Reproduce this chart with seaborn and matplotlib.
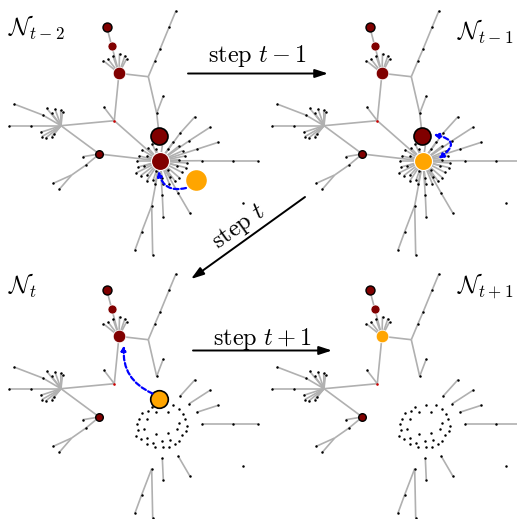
import matplotlib
matplotlib.use("Agg")
import matplotlib.pyplot as plt
import seaborn as sns
import pandas as pd
from matplotlib.patches import FancyArrowPatch
from matplotlib.collections import LineCollection

sns.set_theme(style="white")
plt.rcParams["mathtext.fontset"] = "cm"
plt.rcParams["font.family"] = ["DejaVu Sans"]
plt.rcParams["text.color"] = "black"

# ---------------- network layout (panel-local pixel coords) ----
core_id = ["n1", "n2", "n3", "J1", "J2", "B", "H", "J3", "F", "N4", "J4"]
core_x = [106.7, 111.7, 119.0, 148.3, 156.7, 159.3, 160.0, 114.3, 61.0, 99.3, 71.7]
core_y = [26.7, 45.7, 73.3, 76.7, 113.3, 136.0, 161.0, 120.7, 125.7, 154.0, 175.0]

# small black leaf / relay nodes
leaf_id = ["U1", "U2", "U3", "U4", "J2a", "J3a", "Fa1", "Fa", "Fb1", "Fb",
           "f1", "f2", "f3", "f4", "f5", "f6", "f7", "f8", "f9", "f10",
           "N4a", "K1", "J4a", "J4b",
           "c1", "c2", "c3", "c4", "c5", "c6",
           "L1a", "L1b", "L2a", "L2b", "L3a", "L3b", "L4a", "L4b", "L4c",
           "L5a", "L5b", "L6a", "L6b", "L7a", "L7b", "L7c", "L7d", "Z"]
leaf_x = [155.0, 160.0, 169.3, 176.0, 163.3, 104.0, 42.7, 14.0, 30.7, 9.3,
          46.7, 51.7, 55.0, 60.7, 62.5, 40.7, 42.0, 45.7, 51.7, 54.0,
          82.7, 86.0, 53.3, 59.3,
          103.3, 108.0, 113.0, 119.5, 125.0, 126.5,
          180.0, 195.0, 189.3, 210.0, 196.7, 218.3, 201.7, 233.3, 258.0,
          178.3, 190.0, 162.3, 163.3, 151.7, 141.7, 135.0, 152.7, 243.0]
leaf_y = [60.7, 49.3, 26.7, 10.7, 96.0, 107.3, 115.0, 104.0, 125.7, 125.7,
          108.3, 113.3, 109.0, 110.0, 112.0, 132.3, 136.5, 138.0, 136.7, 134.0,
          156.7, 165.0, 183.3, 189.3,
          60.7, 59.0, 56.0, 53.5, 55.5, 59.0,
          133.3, 116.7, 140.7, 127.3, 149.3, 142.3, 160.7, 160.7, 160.7,
          193.3, 213.3, 195.0, 216.7, 205.7, 231.7, 250.0, 255.0, 203.0]

# leaves of the hub (short spokes)
ring_x = [173.3, 179.0, 141.7, 148.3, 156.0, 168.3, 182.7, 179.3, 139.3, 147.3,
          186.7, 137.3, 138.3, 144.0, 186.0, 181.7, 140.7, 147.3, 179.3, 153.3,
          146.7, 161.7, 170.0, 175.0, 155.0, 162.7, 169.3, 156.0, 168.3, 176.7,
          152.0, 163.0, 185.0, 136.0]
ring_y = [141.7, 146.0, 149.7, 148.3, 149.0, 149.0, 150.7, 159.7, 156.0, 156.3,
          163.0, 161.0, 167.0, 166.3, 167.7, 172.3, 175.7, 175.0, 177.7, 179.7,
          181.0, 177.7, 177.0, 181.0, 184.3, 184.3, 183.7, 171.0, 170.3, 165.7,
          143.5, 141.5, 156.0, 173.0]
ring_id = ["r%d" % i for i in range(len(ring_x))]

edges = [("n1", "n2"), ("n2", "n3"), ("n3", "J1"), ("J1", "U1"), ("U1", "U2"),
         ("U2", "U3"), ("U3", "U4"), ("J1", "J2"), ("J2", "J2a"), ("J2", "B"),
         ("n3", "J3"), ("J3", "J3a"), ("J3", "F"), ("J3", "H"),
         ("F", "Fa1"), ("Fa1", "Fa"), ("F", "Fb1"), ("Fb1", "Fb"),
         ("F", "N4"), ("N4", "H"), ("N4", "N4a"), ("N4", "K1"), ("K1", "J4"),
         ("J4", "J4a"), ("J4", "J4b"),
         ("H", "L1a"), ("L1a", "L1b"), ("H", "L2a"), ("L2a", "L2b"),
         ("H", "L3a"), ("L3a", "L3b"), ("H", "L4a"), ("L4a", "L4b"), ("L4b", "L4c"),
         ("H", "L5a"), ("L5a", "L5b"), ("H", "L6a"), ("L6a", "L6b"),
         ("H", "L7a"), ("L7a", "L7b"), ("L7b", "L7c"), ("L7a", "L7d")]
edges += [("F", "f%d" % i) for i in range(1, 11)]
edges += [("n3", "c%d" % i) for i in range(1, 7)]
edges += [("H", r) for r in ring_id]

walker_x = [196.0]
walker_y = [180.0]

panel_labels = [r"$\mathcal{N}_{t-2}$", r"$\mathcal{N}_{t-1}$",
                r"$\mathcal{N}_{t}$", r"$\mathcal{N}_{t+1}$"]
step_labels = [r"$\mathrm{step}\ t-1$", r"$\mathrm{step}\ t$", r"$\mathrm{step}\ t+1$"]

# ------------------------------------------------------------------------------
pos = {}
for i, n in enumerate(core_id):
    pos[n] = (core_x[i], core_y[i])
for i, n in enumerate(leaf_id):
    pos[n] = (leaf_x[i], leaf_y[i])
for i, n in enumerate(ring_id):
    pos[n] = (ring_x[i], ring_y[i])

W, Hh = 517, 519
fig = plt.figure(figsize=(W / 100, Hh / 100), dpi=100)
ax = fig.add_axes([0, 0, 1, 1])
ax.set_xlim(0, W)
ax.set_ylim(Hh, 0)
ax.axis("off")

offsets = [(0, 0), (263, 0), (0, 263), (263, 263)]
MAROON = "#800000"
ORANGE = "#FFA500"
GRAY = "#b0b0b0"


def s_of(r):
    return (1.44 * r) ** 2


def node(x, y, r, fc, ec, lw, z=5):
    sns.scatterplot(x=[x], y=[y], s=s_of(r), color=fc, edgecolor=ec,
                    linewidth=lw, ax=ax, zorder=z, legend=False)


for p, (dx, dy) in enumerate(offsets):
    hub_gone = p >= 2
    segs = []
    for a, b in edges:
        if hub_gone and ("H" in (a, b) or (a, b) == ("J2", "B")):
            continue
        (x1, y1), (x2, y2) = pos[a], pos[b]
        segs.append([(x1 + dx, y1 + dy), (x2 + dx, y2 + dy)])
    ax.add_collection(LineCollection(segs, colors=GRAY, linewidths=1.2, zorder=2))

    lx = [pos[n][0] + dx for n in leaf_id + ring_id + ["J2"]]
    ly = [pos[n][1] + dy for n in leaf_id + ring_id + ["J2"]]
    sns.scatterplot(x=lx, y=ly, s=3.2, color="black", linewidth=0, ax=ax,
                    zorder=3, legend=False)

    def P(n):
        return pos[n][0] + dx, pos[n][1] + dy

    node(*P("n1"), 4.5, MAROON, "black", 1.0)
    node(*P("n2"), 4.5, MAROON, "white", 0.5)
    node(*P("n3"), 6.3, ORANGE if p == 3 else MAROON, "white", 0.6)
    node(*P("J3"), 1.3, "#cc0000", "white", 0.0)
    node(*P("N4"), 3.8, MAROON, "black", 1.0)
    if p == 0:
        node(*P("B"), 8.5, MAROON, "black", 1.2)
        node(*P("H"), 9.0, MAROON, "white", 0.8)
        node(walker_x[0] + dx, walker_y[0] + dy, 10.3, ORANGE, ORANGE, 0.0)
    elif p == 1:
        node(*P("B"), 8.5, MAROON, "black", 1.2)
        node(*P("H"), 9.0, ORANGE, "white", 0.8)
    elif p == 2:
        node(*P("B"), 8.8, ORANGE, "black", 1.2)

    ax.text(8 + dx if p % 2 == 0 else 457, 14 + dy - (0 if p < 2 else 5) + (0 if p != 1 else 4),
            panel_labels[p], fontsize=17.5, ha="left", va="top", color="black")


def blue_arrow(a, b, rad, style):
    arr = FancyArrowPatch(a, b, connectionstyle="arc3,rad=%g" % rad,
                          arrowstyle=style, mutation_scale=7, color="#0000ff",
                          linestyle=(0, (2.2, 1.2)), linewidth=1.6, zorder=6,
                          shrinkA=0, shrinkB=0)
    ax.add_patch(arr)


# walker moves
blue_arrow((186, 188), (158.5, 171), -0.5, "-|>")
blue_arrow((263 + 175.5, 158.5), (263 + 170.5, 134.5), 1.15, "<|-|>")
blue_arrow((152.5, 263 + 130.5), (124, 263 + 82.5), -0.35, "-|>")


# step arrows
def step_arrow(a, b):
    ax.add_patch(FancyArrowPatch(a, b, arrowstyle="-|>,head_length=0.55,head_width=0.18",
                                 mutation_scale=14, color="black", linewidth=1.4,
                                 shrinkA=0, shrinkB=0, zorder=6))


step_arrow((188, 73.5), (328, 73.5))
step_arrow((305, 197), (191, 279))
step_arrow((193, 350.5), (332, 350.5))
ax.text(257, 62, step_labels[0], fontsize=17.5, ha="center", va="baseline", color="black")
ax.text(239, 227, step_labels[1], fontsize=17.5, ha="center", va="center", rotation=35.7,
        rotation_mode="anchor", color="black")
ax.text(262, 345, step_labels[2], fontsize=17.5, ha="center", va="baseline", color="black")

fig.savefig("out.png", dpi=100)
